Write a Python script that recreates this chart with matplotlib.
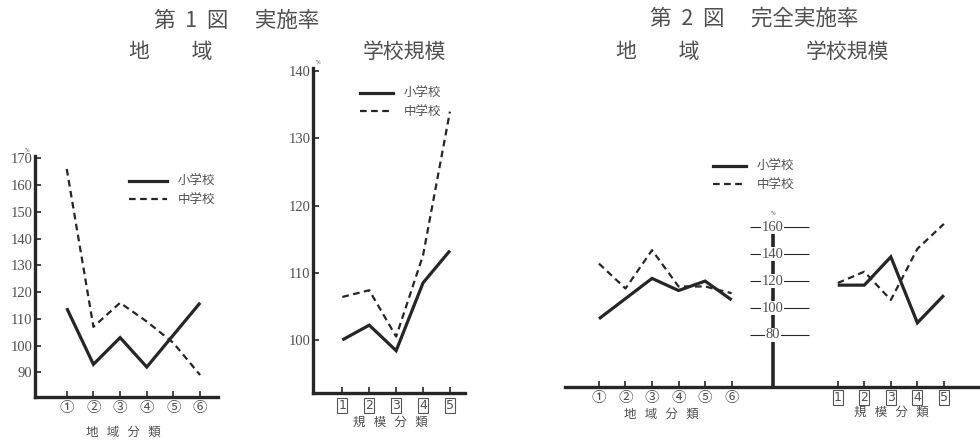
import numpy as np
import matplotlib
matplotlib.use("Agg")
import matplotlib.pyplot as plt
from matplotlib.lines import Line2D

# ---------------- data ----------------
region_labels = ["①", "②", "③", "④", "⑤", "⑥"]
size_labels = ["1", "2", "3", "4", "5"]
series_names = ["小学校", "中学校"]

# Fig.1 実施率 (%)
fig1_region_elem = [114, 93, 103, 92, 104, 116]
fig1_region_jhs = [166, 107, 116, 109, 101, 89]
fig1_size_elem = [100, 102.2, 98.4, 108.5, 113.3]
fig1_size_jhs = [106.4, 107.4, 100.5, 112.6, 134]

# Fig.2 完全実施率 (%)
fig2_region_elem = [92, 107, 122, 113, 120, 106]
fig2_region_jhs = [133, 114.5, 143, 116, 116, 111]
fig2_size_elem = [117, 117, 138, 89, 109.5]
fig2_size_jhs = [118.6, 127, 106, 144, 162.5]

fig1_region_yticks = [90, 100, 110, 120, 130, 140, 150, 160, 170]
fig1_size_yticks = [100, 110, 120, 130, 140]
fig2_yticks = [80, 100, 120, 140, 160]

# ---------------- style ----------------
W, H = 980, 440
LC = "#262626"
TC = "#505050"
CJK = ["Noto Sans CJK JP", "DejaVu Sans"]
NUM = ["Liberation Serif", "DejaVu Serif"]
plt.rcParams["font.family"] = CJK

fig = plt.figure(figsize=(W / 100, H / 100), dpi=100)
fig.patch.set_facecolor("white")


def rect(l, t, r, b):
    return [l / W, 1 - b / H, (r - l) / W, (b - t) / H]


def fx(x):
    return x / W


def fy(y):
    return 1 - y / H


def style_axes(ax):
    for s in ["top", "right"]:
        ax.spines[s].set_visible(False)
    for s in ["left", "bottom"]:
        ax.spines[s].set_linewidth(2.4)
        ax.spines[s].set_color(LC)
    ax.tick_params(axis="both", direction="in", length=4, width=1.2,
                   color=LC, labelcolor=TC)
    ax.set_facecolor("none")


def draw_series(ax, x, elem, jhs):
    ax.plot(x, elem, color=LC, lw=2.3, solid_joinstyle="miter",
            solid_capstyle="butt")
    ax.plot(x, jhs, color=LC, lw=1.6, ls=(0, (3, 2)))


def box_labels(labels_objs):
    for t in labels_objs:
        t.set_bbox(dict(boxstyle="square,pad=0.08", fc="white",
                        ec="#555555", lw=0.8))


def add_legend(ax, x, y, hl):
    ax.legend(
        [Line2D([], [], color=LC, lw=2.3),
         Line2D([], [], color=LC, lw=1.6, ls=(0, (3, 2)))],
        series_names, loc="center left",
        bbox_to_anchor=(fx(x), fy(y)), bbox_transform=fig.transFigure,
        frameon=False, handlelength=hl, fontsize=9, labelspacing=0.45,
        handletextpad=0.9, labelcolor=TC)


# ================= Fig.1 : region =================
ax1 = fig.add_axes(rect(35, 155.6, 218, 397))
style_axes(ax1)
x1 = np.arange(1, len(region_labels) + 1)
draw_series(ax1, x1, fig1_region_elem, fig1_region_jhs)
ax1.set_xlim(-0.19, 6.67)
ax1.set_ylim(80.8, 171)
ax1.set_yticks(fig1_region_yticks)
ax1.set_yticklabels([str(v) for v in fig1_region_yticks], family=NUM,
                    fontsize=10.5)
ax1.set_xticks(x1)
ax1.set_xticklabels(region_labels, fontsize=10.5)
ax1.tick_params(axis="x", pad=3)
ax1.tick_params(axis="y", pad=2)
add_legend(ax1, 118, 191, 3.0)
fig.text(fx(123), fy(432), "地   域   分   類", ha="center", va="center",
         fontsize=9, color=TC)
fig.text(fx(27), fy(150), "%", ha="center", va="center", fontsize=4,
         color=TC, family=NUM)

# ================= Fig.1 : school size =================
ax2 = fig.add_axes(rect(313.3, 68, 465, 393.3))
style_axes(ax2)
x2 = np.arange(1, len(size_labels) + 1)
draw_series(ax2, x2, fig1_size_elem, fig1_size_jhs)
ax2.set_xlim(-0.08, 5.56)
ax2.set_ylim(92.05, 140.5)
ax2.set_yticks(fig1_size_yticks)
ax2.set_yticklabels([str(v) for v in fig1_size_yticks], family=NUM,
                    fontsize=10.5)
ax2.set_xticks(x2)
tl2 = ax2.set_xticklabels(size_labels, fontsize=9, family=["DejaVu Sans"])
box_labels(tl2)
ax2.tick_params(axis="x", pad=4)
ax2.tick_params(axis="y", pad=2)
add_legend(ax2, 349, 103, 2.6)
fig.text(fx(390), fy(422), "規   模   分   類", ha="center", va="center",
         fontsize=9, color=TC)
fig.text(fx(318), fy(62), "%", ha="center", va="center", fontsize=4,
         color=TC, family=NUM)

# ================= Fig.2 : combined =================
ax3 = fig.add_axes(rect(565, 150, 980, 387.3))
for s in ["top", "right", "left"]:
    ax3.spines[s].set_visible(False)
ax3.spines["bottom"].set_linewidth(2.4)
ax3.spines["bottom"].set_color(LC)
ax3.set_facecolor("none")
ax3.set_xlim(-1.28, 14.36)
ax3.set_ylim(41.1, 217.4)
ax3.set_yticks([])

xr = np.arange(len(region_labels))
size_offset = 9
xs = np.arange(len(size_labels)) + size_offset
center = 6.55

draw_series(ax3, xr, fig2_region_elem, fig2_region_jhs)
draw_series(ax3, xs, fig2_size_elem, fig2_size_jhs)

# central value axis
ax3.vlines(center, 41.1, fig2_yticks[-1], color=LC, lw=2.6, zorder=2)
ax3.hlines(fig2_yticks, center - 0.85, center + 1.35, color=LC, lw=0.8,
           zorder=1)
for v in fig2_yticks:
    ax3.text(center, v, str(v), ha="center", va="center", fontsize=10.5,
             family=NUM, color=TC, zorder=3,
             bbox=dict(boxstyle="square,pad=0.05", fc="white", ec="none"))
ax3.text(center, fig2_yticks[-1] + 10, "%", ha="center", va="center",
         fontsize=4, color=TC, family=NUM)

ax3.set_xticks(np.concatenate([xr, xs]))
tl3 = ax3.set_xticklabels(region_labels + size_labels, fontsize=10.5)
for t in tl3[len(region_labels):]:
    t.set_fontsize(9)
    t.set_family(["DejaVu Sans"])
box_labels(tl3[len(region_labels):])
ax3.tick_params(axis="x", direction="in", length=4, width=1.2, color=LC,
                labelcolor=TC, pad=3)
add_legend(ax3, 702, 176, 2.6)
fig.text(fx(661), fy(414), "地   域   分   類", ha="center", va="center",
         fontsize=9, color=TC)
fig.text(fx(891), fy(412), "規   模   分   類", ha="center", va="center",
         fontsize=9, color=TC)

# ---------------- titles ----------------
fig.text(fx(237), fy(21), "第  1  図　 実施率", ha="center", va="center",
         fontsize=15.5, color=TC)
fig.text(fx(171), fy(52), "地　　域", ha="center", va="center",
         fontsize=15, color=TC)
fig.text(fx(404), fy(52), "学校規模", ha="center", va="center",
         fontsize=15, color=TC)
fig.text(fx(754), fy(19), "第  2  図　 完全実施率", ha="center", va="center",
         fontsize=15.5, color=TC)
fig.text(fx(658), fy(52), "地　　域", ha="center", va="center",
         fontsize=15, color=TC)
fig.text(fx(847), fy(52), "学校規模", ha="center", va="center",
         fontsize=15, color=TC)

fig.savefig("out.png", dpi=100, facecolor="white")
